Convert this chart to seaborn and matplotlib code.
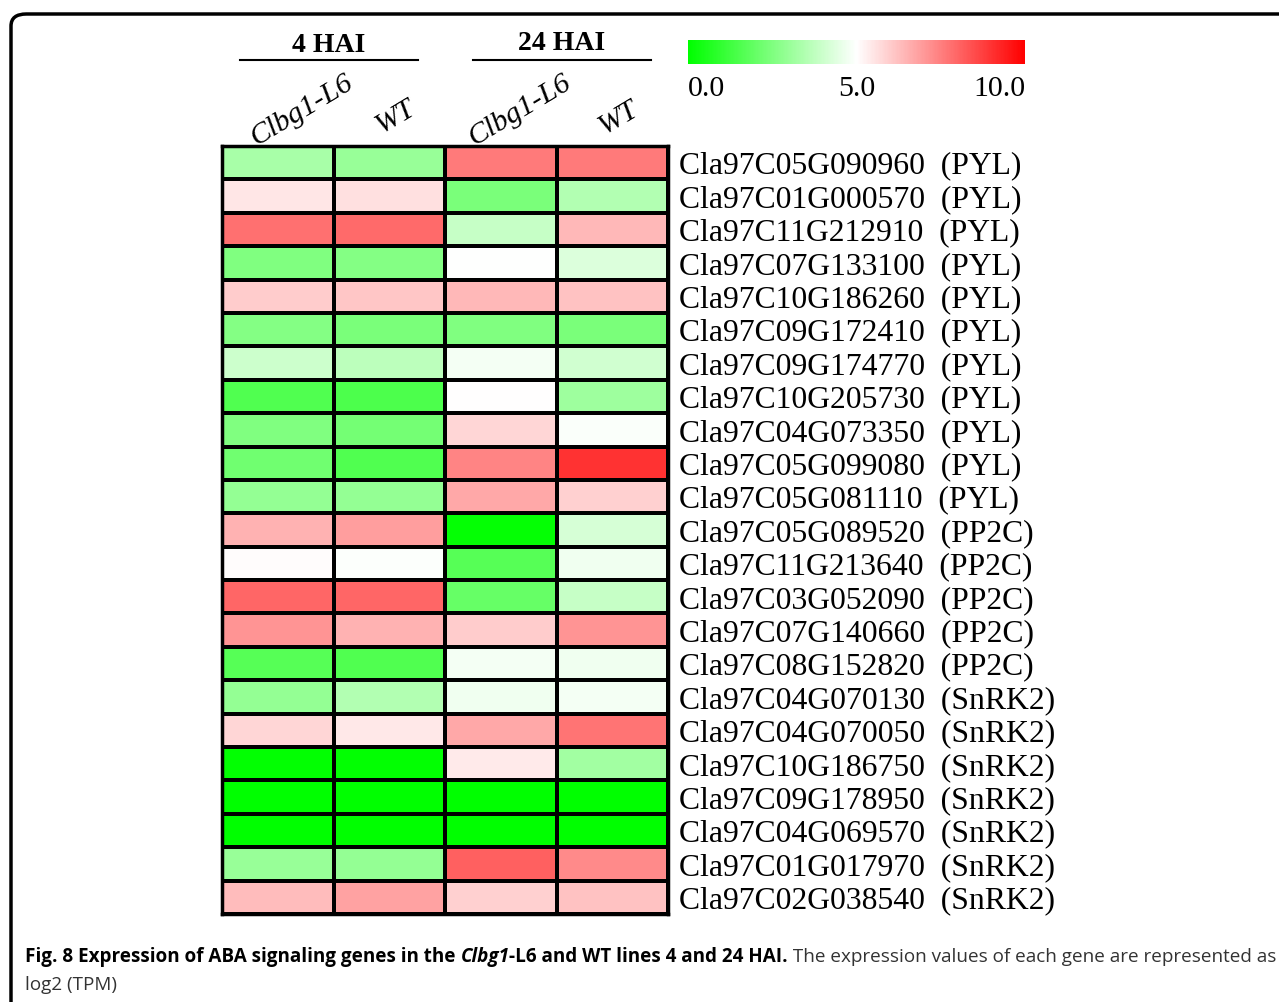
import numpy as np
import pandas as pd
import matplotlib
matplotlib.use("Agg")
import matplotlib.pyplot as plt
import seaborn as sns
from matplotlib.colors import LinearSegmentedColormap
from matplotlib.patches import FancyBboxPatch
from matplotlib.transforms import blended_transform_factory

genes = ["Cla97C05G090960", "Cla97C01G000570", "Cla97C11G212910", "Cla97C07G133100",
         "Cla97C10G186260", "Cla97C09G172410", "Cla97C09G174770", "Cla97C10G205730",
         "Cla97C04G073350", "Cla97C05G099080", "Cla97C05G081110", "Cla97C05G089520",
         "Cla97C11G213640", "Cla97C03G052090", "Cla97C07G140660", "Cla97C08G152820",
         "Cla97C04G070130", "Cla97C04G070050", "Cla97C10G186750", "Cla97C09G178950",
         "Cla97C04G069570", "Cla97C01G017970", "Cla97C02G038540"]
families = ["PYL"] * 11 + ["PP2C"] * 5 + ["SnRK2"] * 7
columns = ["Clbg1-L6", "WT", "Clbg1-L6 ", "WT "]
col_labels = ["Clbg1-L6", "WT", "Clbg1-L6", "WT"]
groups = ["4 HAI", "24 HAI"]

hai4_clbg = [3.3, 5.5, 7.8, 2.5, 6.0, 2.6, 4.0, 1.6, 2.5, 2.2, 2.9, 6.5,
             5.05, 8.0, 7.1, 1.7, 2.9, 5.8, 0.05, 0.0, 0.0, 3.0, 6.3]
hai4_wt = [3.0, 5.6, 7.9, 2.6, 6.1, 2.4, 3.7, 1.5, 2.3, 1.6, 2.9, 6.9,
           4.95, 8.0, 6.5, 1.6, 3.5, 5.45, 0.05, 0.0, 0.0, 2.9, 6.8]
hai24_clbg = [7.6, 2.4, 3.9, 4.97, 6.4, 2.5, 4.8, 5.0, 5.8, 7.4, 6.7, 0.1,
              1.7, 2.0, 6.0, 4.8, 4.7, 6.7, 5.4, 0.0, 0.0, 8.1, 5.9]
hai24_wt = [7.6, 3.5, 6.4, 4.3, 6.2, 2.4, 4.1, 3.1, 4.9, 9.0, 5.9, 4.2,
            4.7, 3.9, 7.1, 4.7, 4.8, 7.7, 3.2, 0.0, 0.0, 7.3, 6.2]

row_labels = [f"{g}  ({f})" for g, f in zip(genes, families)]
df = pd.DataFrame({columns[0]: hai4_clbg, columns[1]: hai4_wt,
                   columns[2]: hai24_clbg, columns[3]: hai24_wt}, index=row_labels)

W, H = 1279, 1002
fig = plt.figure(figsize=(W / 100, H / 100), dpi=100)

def fx(x): return x / W
def fy(y): return 1 - y / H

cmap = LinearSegmentedColormap.from_list("gwr", ["#00ff00", "#ffffff", "#ff0000"])

ax = fig.add_axes([fx(222), fy(914), fx(668) - fx(222), fy(146) - fy(914)])
cax = fig.add_axes([fx(688), fy(64), fx(1025) - fx(688), fy(40) - fy(64)])

sns.heatmap(df, ax=ax, cmap=cmap, vmin=0, vmax=10, linewidths=2.8, linecolor="black",
            cbar=True, cbar_ax=cax, cbar_kws={"orientation": "horizontal", "ticks": [0, 5, 10]})

serif = ["Liberation Serif", "DejaVu Serif"]

for s in ax.spines.values():
    s.set_visible(True)
    s.set_linewidth(2.5)
    s.set_color("black")

ax.yaxis.tick_right()
ax.set_yticklabels(row_labels, rotation=0, fontfamily=serif, fontsize=22.8)
ax.tick_params(axis="y", length=0, pad=8)
ax.set_xticks([])
ax.set_xlabel("")
ax.set_ylabel("")

tr = blended_transform_factory(ax.transData, fig.transFigure)
offs = [0.22, 0.05, 0.17, 0.05]
ys = [110, 117, 110, 118]
for i, lab in enumerate(col_labels):
    ax.text(i + 0.5 + offs[i], fy(ys[i]), lab, transform=tr, rotation=31,
            ha="center", va="center", fontfamily=serif, style="italic", fontsize=21.5)

for g, (x0, x1, ty) in zip(groups, [(240, 418, 45), (473, 651, 44)]):
    fig.text(fx((x0 + x1) / 2), fy(ty), g, ha="center", va="center",
             fontfamily=serif, fontweight="bold", fontsize=20)
    fig.add_artist(plt.Line2D([fx(x0), fx(x1)], [fy(60), fy(60)], color="black", lw=1.5))

cax.tick_params(length=0, pad=9)
cax.set_xticklabels(["0.0", "5.0", "10.0"], fontfamily=serif, fontsize=21.5)
labs = cax.get_xticklabels()
labs[0].set_ha("left")
labs[2].set_ha("right")
for s in cax.spines.values():
    s.set_visible(False)
cb = ax.collections[0].colorbar
if cb is not None:
    cb.outline.set_visible(False)

frame = FancyBboxPatch((fx(11), fy(1030)), fx(1300) - fx(11), fy(14) - fy(1030),
                       boxstyle="round,pad=0,rounding_size=0.012", transform=fig.transFigure,
                       fill=False, edgecolor="black", lw=2.5, clip_on=False)
fig.add_artist(frame)

cap_font = ["Open Sans", "DejaVu Sans"]
pieces = [("Fig. 8 Expression of ABA signaling genes in the ", "bold", "normal", "black"),
          ("Clbg1", "bold", "italic", "black"),
          ("-L6 and WT lines 4 and 24 HAI.", "bold", "normal", "black"),
          (" The expression values of each gene are represented as", "normal", "normal", "#333333")]
fs = 13.6
renderer = fig.canvas.get_renderer()
x = 25
y = fy(957)
for txt, wt, st, col in pieces:
    t = fig.text(fx(x), y, txt, fontfamily=cap_font, fontweight=wt, style=st,
                 fontsize=fs, color=col, va="center", ha="left")
    bb = t.get_window_extent(renderer=renderer)
    x += bb.width
fig.text(fx(25), fy(985), "log2 (TPM)", fontfamily=cap_font, fontsize=fs,
         color="#333333", va="center", ha="left")

fig.savefig("out.png", dpi=100)
